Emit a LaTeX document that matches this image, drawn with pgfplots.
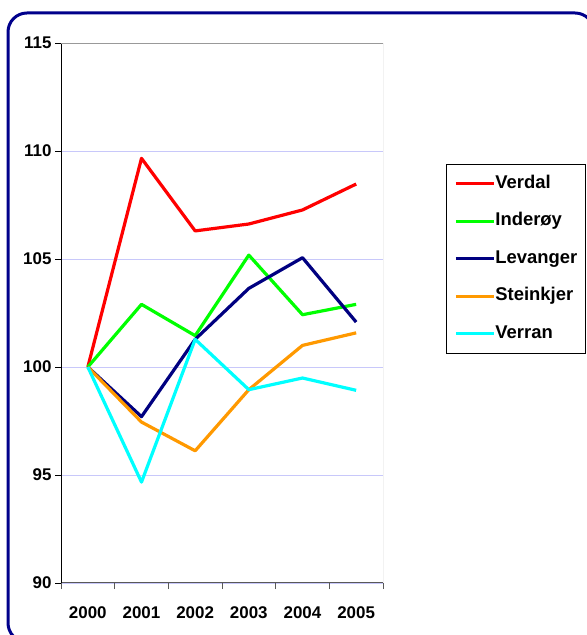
\documentclass[border=0pt]{standalone}
\usepackage{pgfplots}
\pgfplotsset{compat=1.18}
\usepackage{fontspec}
\setmainfont{Liberation Sans}

\definecolor{frameblue}{RGB}{0,0,139}
\definecolor{gridlav}{RGB}{200,200,250}
\definecolor{cVerdal}{RGB}{255,0,0}
\definecolor{cInderoy}{RGB}{0,255,0}
\definecolor{cLevanger}{RGB}{0,0,128}
\definecolor{cSteinkjer}{RGB}{255,153,0}
\definecolor{cVerran}{RGB}{0,255,255}

\begin{document}
\begin{tikzpicture}[x=1bp,y=1bp]
  \useasboundingbox (0,0) rectangle (587,635);
  \clip (0,0) rectangle (587,635);
  % outer chart frame, runs past the right and bottom edges
  \draw[frameblue, line width=3bp, rounded corners=19bp] (8,622) rectangle (594,-7);
  \begin{axis}[
      at={(61bp,52bp)}, anchor=south west,
      scale only axis, width=322bp, height=540bp,
      xmin=-0.5, xmax=5.5, ymin=90, ymax=115,
      xtick={-0.5,0.5,1.5,2.5,3.5,4.5,5.5},
      xticklabels={2000,2001,2002,2003,2004,2005},
      x tick label as interval,
      ytick={90,95,100,105,110,115},
      axis x line*=bottom, axis y line*=left,
      x axis line style={draw=black!65, line width=1bp},
      y axis line style={draw=black, line width=0.8bp},
      tick align=outside, major tick length=6bp,
      xtick style={draw=black!65, line width=0.8bp},
      ytick style={draw=black, line width=0.8bp},
      ymajorgrids, grid style={draw=gridlav, line width=0.9bp},
      /pgf/number format/assume math mode=true,
      ticklabel style={font=\bfseries\fontsize{17}{20}\selectfont},
      xticklabel style={yshift=-14bp},
      legend style={at={(1.1957,0.7759)}, anchor=north west,
        draw=black, line width=0.8bp,
        font=\bfseries\fontsize{18.5}{22}\selectfont,
        inner xsep=8bp, inner ysep=11bp, row sep=21bp,
        nodes={inner sep=0pt, text height=13bp, text depth=3.5bp},
        /tikz/every even column/.append style={column sep=5bp}},
      legend cell align=left,
      legend image code/.code={\draw[#1, line width=3bp] (0bp,0bp) -- (38bp,0bp);},
      every axis plot/.append style={line width=3.2bp, mark=none, line join=round},
    ]
    \addplot[cVerdal] coordinates {(0,100) (1,109.66) (2,106.3) (3,106.62) (4,107.27) (5,108.47)};
    \addplot[cInderoy] coordinates {(0,100) (1,102.9) (2,101.45) (3,105.18) (4,102.42) (5,102.9)};
    \addplot[cLevanger] coordinates {(0,100) (1,97.7) (2,101.28) (3,103.64) (4,105.06) (5,102.08)};
    \addplot[cSteinkjer] coordinates {(0,100) (1,97.45) (2,96.12) (3,98.95) (4,101.0) (5,101.58)};
    \addplot[cVerran] coordinates {(0,100) (1,94.67) (2,101.28) (3,98.95) (4,99.49) (5,98.92)};
    \legend{Verdal, Inderøy, Levanger, Steinkjer, Verran}
    \draw[draw=black!40, line width=0.8bp] (rel axis cs:0,1) -- (rel axis cs:1,1) -- (rel axis cs:1,0);
  \end{axis}
\end{tikzpicture}
\end{document}
